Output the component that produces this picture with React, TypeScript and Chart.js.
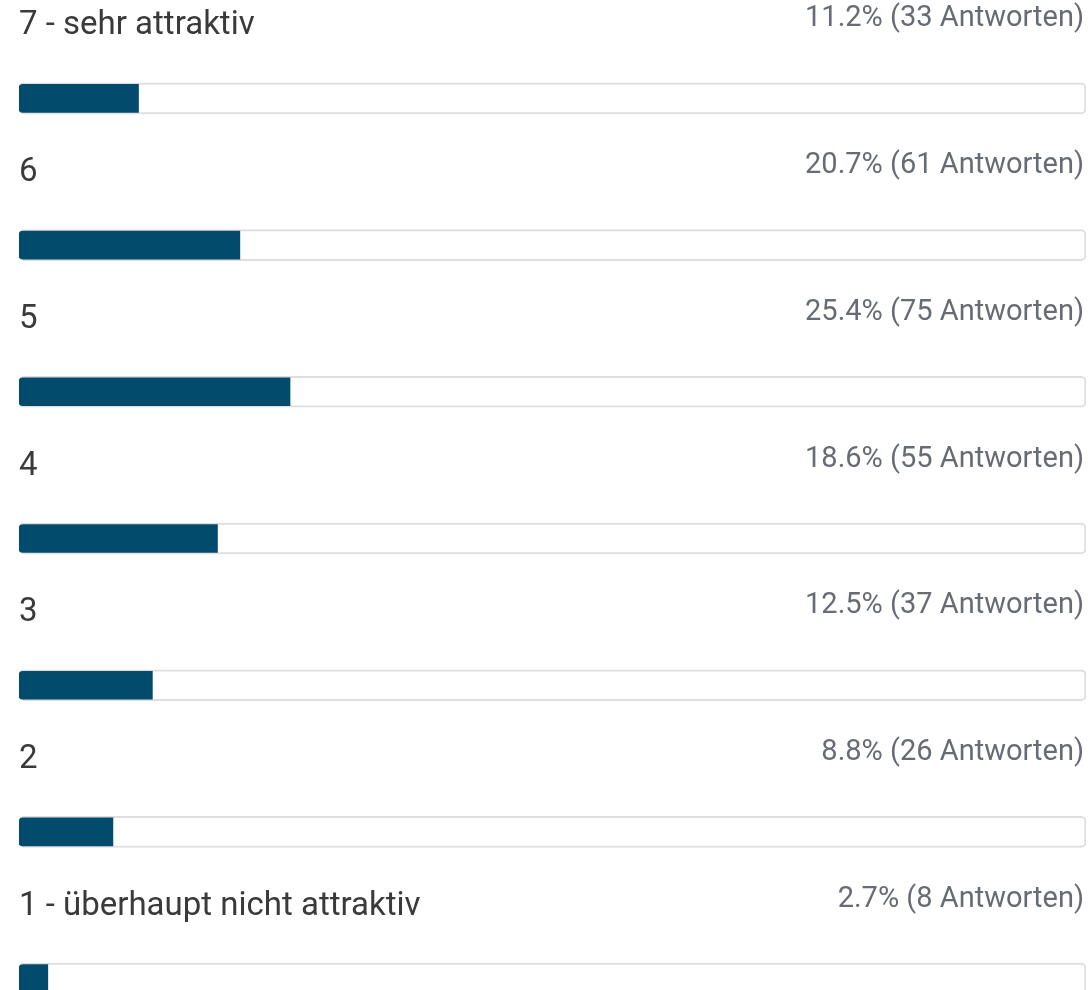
import React, { useEffect, useRef } from "react";
import { Chart, registerables } from "chart.js";

Chart.register(...registerables);

const categories = [
  "7 - sehr attraktiv",
  "6",
  "5",
  "4",
  "3",
  "2",
  "1 - überhaupt nicht attraktiv",
];
const percentValues = [11.2, 20.7, 25.4, 18.6, 12.5, 8.8, 2.7];
const answerCounts = [33, 61, 75, 55, 37, 26, 8];
const trackValues = [100, 100, 100, 100, 100, 100, 100];

const LABEL_FONT = "Roboto";

export default function App() {
  const ref = useRef<HTMLCanvasElement | null>(null);

  useEffect(() => {
    document.body.style.margin = "0";
    const canvas = ref.current;
    if (!canvas) return;

    const textPlugin = {
      id: "rowTexts",
      afterDatasetsDraw(chart: any) {
        const { ctx, chartArea } = chart;
        const yScale = chart.scales.y;
        ctx.save();
        categories.forEach((cat, i) => {
          const cy = yScale.getPixelForValue(i);
          ctx.textBaseline = "alphabetic";
          ctx.textAlign = "left";
          ctx.fillStyle = "#3a3a3a";
          ctx.font = `33px ${LABEL_FONT}`;
          ctx.fillText(cat, chartArea.left, cy - 64);
          ctx.textAlign = "right";
          ctx.fillStyle = "#676c74";
          ctx.font = `29px ${LABEL_FONT}`;
          ctx.fillText(
            `${percentValues[i].toFixed(1)}% (${answerCounts[i]} Antworten)`,
            chartArea.right - 2,
            cy - 72
          );
        });
        ctx.restore();
      },
    };

    const chart = new Chart(canvas, {
      type: "bar",
      data: {
        labels: categories,
        datasets: [
          {
            label: "Anteil",
            data: percentValues,
            backgroundColor: "#034b6c",
            borderWidth: 0,
            borderSkipped: false,
            borderRadius: { topLeft: 4, bottomLeft: 4, topRight: 0, bottomRight: 0 },
            barThickness: 28,
            order: 0,
          },
          {
            label: "Track",
            data: trackValues,
            backgroundColor: "#ffffff",
            borderColor: "#dedede",
            borderWidth: 2,
            borderSkipped: false,
            borderRadius: 5,
            barThickness: 31,
            order: 1,
          },
        ],
      },
      options: {
        indexAxis: "y",
        animation: false,
        responsive: false,
        maintainAspectRatio: false,
        grouped: false,
        layout: { padding: { left: 19, right: 6, top: 25, bottom: 8 } },
        plugins: {
          legend: { display: false },
          tooltip: { enabled: false },
        },
        scales: {
          x: { display: false, min: 0, max: 100 },
          y: { display: false, offset: true },
        },
      },
      plugins: [textPlugin],
    } as any);

    return () => chart.destroy();
  }, []);

  return (
    <div style={{ width: 1092, height: 990, overflow: "hidden", background: "#fff" }}>
      <canvas ref={ref} width={1092} height={1060} style={{ display: "block" }} />
    </div>
  );
}
